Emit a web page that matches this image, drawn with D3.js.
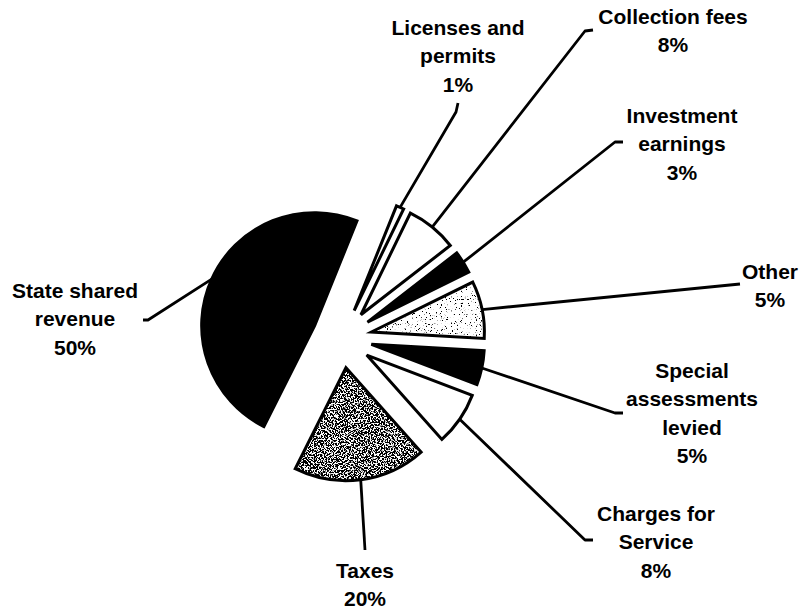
<!DOCTYPE html>
<html>
<head>
<meta charset="utf-8">
<script src="https://cdn.jsdelivr.net/npm/d3@7"></script>
<style>
  body { margin: 0; background: #fff; }
  text { font-family: "Liberation Sans", Arial, Helvetica, sans-serif; font-weight: bold; font-size: 21px; fill: #000; }
</style>
</head>
<body>
<div id="chart"></div>
<script>
// categories in the order they go round the pie (clockwise from the top)
var categories = [
    ["Licenses and", "permits"],
    ["Collection fees"],
    ["Investment", "earnings"],
    ["Other"],
    ["Special", "assessments", "levied"],
    ["Charges for", "Service"],
    ["Taxes"],
    ["State shared", "revenue"]
];
// percentages as printed on the chart
var percents = [1, 8, 3, 5, 5, 8, 20, 50];
// share of the circle each wedge takes as it is drawn in the picture
var drawnShare = [1.1, 7.3, 3.2, 8.2, 4.9, 7.6, 19.0, 48.7];

// looks of each wedge
var fills = ["white", "white", "black", "light", "black", "white", "dark", "black"];

// label layout: centre x, y of first line
var labelAt = [[458, 27], [673, 16], [682, 115], [770, 271], [692, 370], [656, 513], [365, 570], [75, 290]];
// leader line points after it leaves the wedge
var leaderTo = [
    [[456, 112], [458, 103]],
    [[585, 31], [593, 30]],
    [[615, 142], [623, 142]],
    [[740, 284]],
    [[615, 413], [623, 413]],
    [[585, 540], [593, 540]],
    [[365, 550]],
    [[148, 320], [143, 320]]
];

function main()
{
    var svgWidth = 800;
    var svgHeight = 610;
    var cx = 342, cy = 338;
    var radius = 113;
    var explode = 30;
    var startDeg = 22;
    var lineGap = 28.5;

    var svg = d3.select("#chart").append("svg")
        .attr("width", svgWidth)
        .attr("height", svgHeight);

    var defs = svg.append("defs");

    // grainy fills made from noise, cut to the wedge shape
    function grain(id, threshold, freq, seed) {
        var f = defs.append("filter")
            .attr("id", id)
            .attr("x", -0.1).attr("y", -0.1)
            .attr("width", 1.2).attr("height", 1.2);
        f.append("feTurbulence")
            .attr("type", "fractalNoise")
            .attr("baseFrequency", freq)
            .attr("numOctaves", 2)
            .attr("seed", seed);
        f.append("feColorMatrix")
            .attr("type", "matrix")
            .attr("values", "1 0 0 0 0  1 0 0 0 0  1 0 0 0 0  0 0 0 0 1");
        var ct = f.append("feComponentTransfer");
        ["feFuncR", "feFuncG", "feFuncB"].forEach(function(n) {
            ct.append(n).attr("type", "linear")
                .attr("slope", 14)
                .attr("intercept", 0.5 - 14 * threshold);
        });
        f.append("feComposite").attr("operator", "in").attr("in2", "SourceAlpha");
    }
    grain("grainDark", 0.53, 0.7, 7);
    grain("grainLight", 0.33, 0.8, 3);

    var pie = d3.pie()
        .sort(null)
        .value(function(d) { return d; })
        .startAngle(startDeg * Math.PI / 180)
        .endAngle(startDeg * Math.PI / 180 + 2 * Math.PI);

    var arcs = pie(drawnShare);

    var arc = d3.arc().innerRadius(0).outerRadius(radius);
    var rim = d3.arc().innerRadius(radius).outerRadius(radius);

    // offset that pulls each wedge out from the centre
    function shift(d) {
        var m = (d.startAngle + d.endAngle) / 2;
        return [cx + explode * Math.sin(m), cy - explode * Math.cos(m)];
    }

    // leader lines go under the wedges
    var line = d3.line();
    svg.append("g").selectAll("path")
        .data(arcs)
        .enter()
        .append("path")
        .attr("d", function(d, i) {
            var s = shift(d);
            var c = rim.centroid(d);
            return line([[s[0] + c[0], s[1] + c[1]]].concat(leaderTo[i]));
        })
        .attr("fill", "none")
        .attr("stroke", "black")
        .attr("stroke-width", 2.8)
        .attr("stroke-linejoin", "round");

    var wedges = svg.append("g").selectAll("g")
        .data(arcs)
        .enter()
        .append("g")
        .attr("transform", function(d) { var s = shift(d); return "translate(" + s[0] + "," + s[1] + ")"; });

    wedges.append("path")
        .attr("d", arc)
        .attr("fill", function(d, i) { return fills[i] == "black" ? "black" : "white"; });

    wedges.filter(function(d, i) { return fills[i] == "dark" || fills[i] == "light"; })
        .append("path")
        .attr("d", arc)
        .attr("fill", "white")
        .attr("filter", function(d) {
            return fills[d.index] == "dark" ? "url(#grainDark)" : "url(#grainLight)";
        });

    wedges.append("path")
        .attr("d", arc)
        .attr("fill", "none")
        .attr("stroke", "black")
        .attr("stroke-width", 3)
        .attr("stroke-linejoin", "miter");

    // labels
    var labels = svg.append("g").selectAll("text")
        .data(categories)
        .enter()
        .append("text")
        .attr("text-anchor", "middle");

    labels.each(function(lines, i) {
        var t = d3.select(this);
        lines.concat([percents[i] + "%"]).forEach(function(s, k) {
            t.append("tspan")
                .attr("x", labelAt[i][0])
                .attr("y", labelAt[i][1] + k * lineGap)
                .attr("dy", "0.36em")
                .text(s);
        });
    });
}
main();
</script>
</body>
</html>
